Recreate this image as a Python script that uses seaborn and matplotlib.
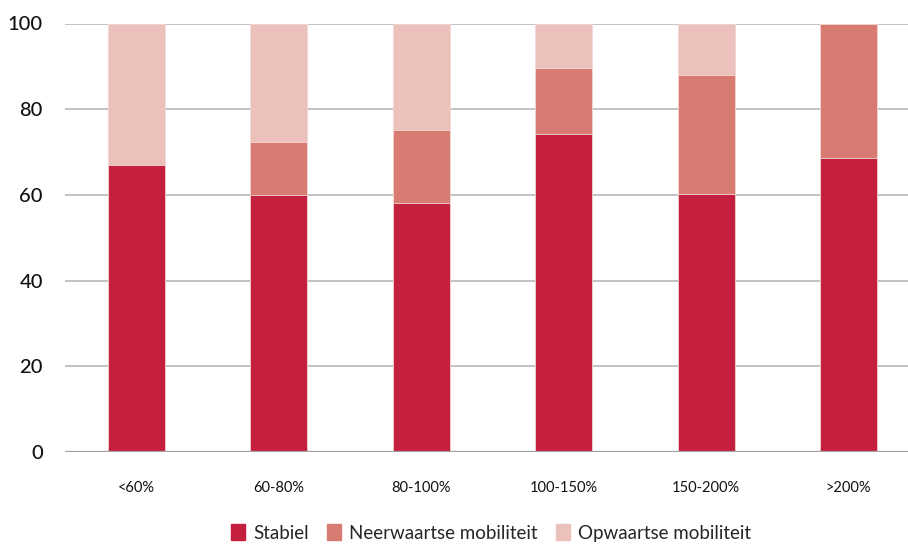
import matplotlib
matplotlib.use("Agg")
import matplotlib.pyplot as plt
import matplotlib.patches as mpatches
import numpy as np
import pandas as pd
import seaborn as sns

categories = ["<60%", "60-80%", "80-100%", "100-150%", "150-200%", ">200%"]
stabiel = [67.0, 60.0, 58.0, 74.1, 60.3, 68.6]
neerwaarts = [0.0, 12.4, 17.1, 15.4, 27.6, 31.4]
opwaarts = [33.0, 27.6, 24.9, 10.5, 12.1, 0.0]

series_names = ["Stabiel", "Neerwaartse mobiliteit", "Opwaartse mobiliteit"]
colors = ["#C41F3E", "#D87B72", "#ECC1BB"]

sns.set_theme(style="white")
plt.rcParams["font.family"] = ["Lato", "DejaVu Sans"]

df = pd.DataFrame({
    "cat": categories,
    "s": stabiel,
    "n": neerwaarts,
    "o": opwaarts,
})
df["sn"] = df["s"] + df["n"]
df["total"] = df["sn"] + df["o"]

fig = plt.figure(figsize=(9.08, 5.45), dpi=100)
ax = fig.add_axes([65 / 908, 93 / 545, (908 - 65) / 908, (452 - 23.5) / 545])

# draw cumulative layers from top to bottom
for col, color in zip(["total", "sn", "s"], colors[::-1]):
    sns.barplot(data=df, x="cat", y=col, order=categories, color=color,
                width=0.4, saturation=1, edgecolor="#f3d9d5", linewidth=0.6,
                ax=ax, zorder=3)

ax.set_ylim(0, 100)
ax.set_xlim(-0.5, (908 - 136) / 142.5)
ax.set_yticks([0, 20, 40, 60, 80, 100])
ax.yaxis.grid(True, color="#b8b8b8", linewidth=1.2, zorder=0)
ax.set_axisbelow(True)
for sp in ax.spines.values():
    sp.set_visible(False)
ax.axhline(0, color="#a0a0a0", linewidth=1.6, zorder=4)
ax.set_xlabel("")
ax.set_ylabel("")
ax.tick_params(axis="y", length=0, pad=16, labelsize=14.5, labelcolor="#111111")
ax.tick_params(axis="x", length=0, pad=21, labelsize=10.5, labelcolor="#111111")
for lbl in ax.get_yticklabels():
    lbl.set_fontweight("medium")

handles = [mpatches.Patch(color=c, label=l) for c, l in zip(colors, series_names)]
fig.legend(handles=handles, loc="center", bbox_to_anchor=(491 / 908, 1 - 533 / 545),
           ncol=3, frameon=False, fontsize=13.5, handlelength=0.75, handleheight=0.9,
           handletextpad=0.4, columnspacing=1.0, borderpad=0.2)

fig.savefig("out.png", dpi=100)
